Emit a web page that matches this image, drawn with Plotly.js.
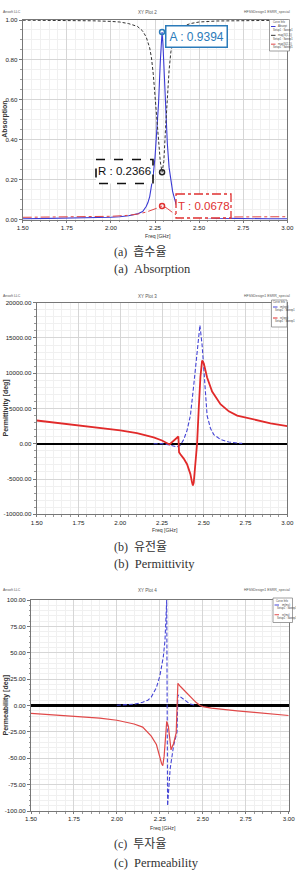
<!DOCTYPE html>
<html>
<head>
<meta charset="utf-8">
<script src="https://cdn.plot.ly/plotly-3.0.1.min.js"></script>
<style>
  html, body { margin: 0; padding: 0; background: #ffffff; }
  #chart { width: 296px; height: 881px; }
</style>
</head>
<body>
<div id="chart"></div>
<script>
// ---------- shared frequency axis ----------
const freqTicks = [1.50, 1.75, 2.00, 2.25, 2.50, 2.75, 3.00];
const freqTickText = ['1.50', '1.75', '2.00', '2.25', '2.50', '2.75', '3.00'];

// ---------- (a) absorption, |S11|, |S21| ----------
const absFreq = [1.50, 1.60, 1.70, 1.80, 1.90, 2.00, 2.05, 2.10, 2.15, 2.18, 2.20, 2.21, 2.22, 2.23, 2.24, 2.25,
                 2.26, 2.27, 2.28, 2.285, 2.29, 2.295, 2.30, 2.31, 2.32, 2.33, 2.34, 2.35, 2.37, 2.40, 2.45,
                 2.50, 2.60, 2.70, 2.80, 2.90, 3.00];
const absorption = [0.003, 0.004, 0.005, 0.006, 0.008, 0.011, 0.014, 0.019, 0.028, 0.040, 0.065, 0.085, 0.115, 0.165,
                    0.225, 0.31, 0.43, 0.58, 0.79, 0.90, 0.9394, 0.88, 0.78, 0.55, 0.38, 0.26, 0.19, 0.14, 0.075,
                    0.040, 0.020, 0.012, 0.007, 0.005, 0.004, 0.003, 0.003];

const reflFreq = [1.50, 1.80, 1.85, 1.90, 2.00, 2.05, 2.10, 2.15, 2.18, 2.20, 2.22, 2.23, 2.24, 2.25, 2.26, 2.27,
                  2.28, 2.29, 2.30, 2.31, 2.32, 2.33, 2.34, 2.35, 2.37, 2.40, 2.45, 2.50, 2.60, 2.80, 3.00];
const reflection = [0.999, 0.999, 0.997, 0.996, 0.993, 0.99, 0.982, 0.968, 0.945, 0.915, 0.86, 0.81, 0.73, 0.63,
                    0.51, 0.39, 0.29, 0.2366, 0.29, 0.46, 0.63, 0.75, 0.84, 0.89, 0.935, 0.965, 0.982, 0.99,
                    0.995, 0.998, 0.999];

const transFreq = [1.50, 1.70, 1.90, 2.00, 2.10, 2.15, 2.20, 2.25, 2.28, 2.29, 2.30, 2.32, 2.34, 2.36, 2.38,
                   2.42, 2.50, 2.70, 3.00];
const transmission = [0.011, 0.012, 0.014, 0.016, 0.021, 0.027, 0.037, 0.051, 0.063, 0.0678, 0.066, 0.055, 0.040,
                      0.028, 0.020, 0.014, 0.012, 0.013, 0.014];

// marker readouts at the absorption peak
const peakFreq = 2.29;
const peakA = 0.9394;
const peakR = 0.2366;
const peakT = 0.0678;

const absTicks = [0, 0.2, 0.4, 0.6, 0.8, 1.0];
const absTickText = ['0.00', '0.20', '0.40', '0.60', '0.80', '1.00'];

// ---------- (b) permittivity ----------
const epsReFreq = [1.50, 1.75, 2.00, 2.10, 2.20, 2.25, 2.28, 2.295, 2.348, 2.352, 2.36, 2.38, 2.40, 2.42, 2.43,
                   2.435, 2.44, 2.45, 2.46, 2.47, 2.48, 2.49, 2.50, 2.52, 2.55, 2.60, 2.65, 2.70, 2.80, 2.90, 3.00];
const epsRe = [3300, 2600, 1900, 1500, 900, 470, 150, -100, 1030, -1200, -1500, -2100, -2900, -4300, -5500,
               -5900, -5500, -3000, 0, 5000, 9500, 11800, 11400, 9400, 7400, 5600, 4600, 4000, 3400, 2900, 2500];

const epsImFreq = [2.20, 2.25, 2.30, 2.34, 2.36, 2.38, 2.40, 2.42, 2.44, 2.46, 2.47, 2.477, 2.49, 2.50, 2.51,
                   2.52, 2.54, 2.56, 2.60, 2.65, 2.70, 2.73];
const epsIm = [0, 20, -200, -450, -200, 600, 1900, 4000, 8300, 13000, 15500, 16800, 14000, 10500, 6500,
               4000, 2200, 1300, 600, 250, 100, 50];

const epsTicks = [-10000, -5000, 0, 5000, 10000, 15000, 20000];
const epsTickText = ['-10000.00', '-5000.00', '0.00', '5000.00', '10000.00', '15000.00', '20000.00'];

// ---------- (c) permeability ----------
const muReFreq = [1.50, 1.60, 1.70, 1.80, 1.90, 2.00, 2.05, 2.10, 2.15, 2.20, 2.23, 2.25, 2.26, 2.267, 2.275,
                  2.29, 2.30, 2.315, 2.33, 2.345, 2.355, 2.37, 2.40, 2.43, 2.46, 2.484, 2.50, 2.55, 2.60, 2.70,
                  2.80, 2.90, 3.00];
const muRe = [-7.5, -8.5, -9.5, -10.5, -12, -14, -15.5, -17.5, -20.5, -29, -37, -50, -55, -57, -48,
              -15, -20, -42, -36, -26, 21, 18, 13, 9, 3, 0, -1, -2.5, -3.5, -5, -6.5, -8, -9.5];

const muImFreq = [2.00, 2.05, 2.10, 2.15, 2.18, 2.20, 2.23, 2.25, 2.27, 2.28, 2.287, 2.29, 2.295, 2.31, 2.33,
                  2.35, 2.355, 2.37, 2.40, 2.425, 2.45];
const muIm = [0.3, 0.6, 1.2, 3, 5, 8, 17, 28, 46, 62, 85, 100, -95, -60, -38, -25, 10, 8, 4, 1.5, 0.5];

const muTicks = [-100, -75, -50, -25, 0, 25, 50, 75, 100];
const muTickText = ['-100.00', '-75.00', '-50.00', '-25.00', '0.00', '25.00', '50.00', '75.00', '100.00'];

// ---------- styling helpers ----------
const W = 296, H = 881;
const px = v => v / W;          // pixel -> paper x
const py = v => 1 - v / H;      // pixel -> paper y

const SANS = '"Liberation Sans", Arial, sans-serif';
const SERIF = '"Liberation Serif", "Noto Sans CJK KR", serif';

const BLUE = '#3b3bd4';
const RED = '#e12a2a';

function xAxis(domain, anchor) {
  return {
    domain: domain, anchor: anchor, range: [1.5, 3.0], fixedrange: true,
    tickmode: 'array', tickvals: freqTicks, ticktext: freqTickText,
    tickfont: { family: SANS, size: 6.2, color: '#222' }, ticklabeloverflow: 'allow',
    ticks: 'outside', ticklen: 2, tickcolor: '#777', tickwidth: 1,
    showline: true, mirror: true, linecolor: '#777', linewidth: 1,
    showgrid: true, gridcolor: '#d6d6d6', gridwidth: 1, zeroline: false,
    minor: { tickmode: 'linear', tick0: 1.5, dtick: 0.05, ticks: 'outside', ticklen: 1.5,
             tickcolor: '#999', showgrid: true, gridcolor: '#f0f0f0', gridwidth: 1 }
  };
}
function yAxis(domain, anchor, range, vals, text, minorStep, zero) {
  return {
    domain: domain, anchor: anchor, range: range, fixedrange: true,
    tickmode: 'array', tickvals: vals, ticktext: text,
    tickfont: { family: SANS, size: 6.2, color: '#222' }, ticklabeloverflow: 'allow',
    ticks: 'outside', ticklen: 3, tickcolor: '#777', tickwidth: 1,
    showline: true, mirror: true, linecolor: '#777', linewidth: 1,
    showgrid: true, gridcolor: '#d6d6d6', gridwidth: 1,
    zeroline: zero, zerolinecolor: '#000', zerolinewidth: 2.2,
    minor: { tickmode: 'linear', tick0: range[0], dtick: minorStep, ticks: 'outside', ticklen: 1.5,
             tickcolor: '#999', showgrid: true, gridcolor: '#f0f0f0', gridwidth: 1 }
  };
}

// ---------- traces ----------
const traces = [
  { x: absFreq, y: absorption, xaxis: 'x', yaxis: 'y', mode: 'lines', name: 'Absorpt',
    line: { color: BLUE, width: 1.1 } },
  { x: reflFreq, y: reflection, xaxis: 'x', yaxis: 'y', mode: 'lines', name: 'mag(S(1,1))',
    line: { color: '#333', width: 1, dash: '3px,2px' } },
  { x: transFreq, y: transmission, xaxis: 'x', yaxis: 'y', mode: 'lines', name: 'mag(S(2,1))',
    line: { color: '#e04545', width: 1, dash: 'dashdot' } },
  { x: [peakFreq], y: [peakA], xaxis: 'x', yaxis: 'y', mode: 'markers', cliponaxis: false,
    marker: { symbol: 'circle-open', size: 5, color: '#2b7bba', line: { width: 1.5 } } },
  { x: [peakFreq], y: [peakR], xaxis: 'x', yaxis: 'y', mode: 'markers',
    marker: { symbol: 'circle-open', size: 5, color: '#222', line: { width: 1.5 } } },
  { x: [peakFreq], y: [peakT], xaxis: 'x', yaxis: 'y', mode: 'markers',
    marker: { symbol: 'circle-open', size: 5, color: '#e03030', line: { width: 1.5 } } },

  { x: epsImFreq, y: epsIm, xaxis: 'x2', yaxis: 'y2', mode: 'lines', name: 'im(eps)',
    line: { color: '#4545d6', width: 1.1, dash: '4px,2px' } },
  { x: epsReFreq, y: epsRe, xaxis: 'x2', yaxis: 'y2', mode: 'lines', name: 're(eps)',
    line: { color: RED, width: 1.8 } },

  { x: muImFreq, y: muIm, xaxis: 'x3', yaxis: 'y3', mode: 'lines', name: 'im(mu)',
    line: { color: '#4545d6', width: 1.1, dash: '4px,2px' } },
  { x: muReFreq, y: muRe, xaxis: 'x3', yaxis: 'y3', mode: 'lines', name: 're(mu)',
    line: { color: '#e04848', width: 1.2 } }
];

// ---------- panel geometry (pixels) ----------
const panels = [
  { x0: 22.7, x1: 287.3, y0: 20, y1: 219.5, head: 12, plot: 'XY Plot 2', ytitle: 'Absorption',
    xt: 236, capKo: '(a)\u00a0\u00a0흡수율', capEn: '(a)\u00a0\u00a0Absorption', c1: 252, c2: 269,
    leg: [269.5, 19.5, 289.5, 51],
    entries: [['Absorpt', BLUE, 'solid'], ['mag(S(1,1))', '#333', 'dash'], ['mag(S(2,1))', '#e04545', 'dashdot']] },
  { x0: 36.7, x1: 287.3, y0: 302.7, y1: 514.3, head: 296, plot: 'XY Plot 3', ytitle: 'Permittivity [deg]',
    xt: 530, capKo: '(b)\u00a0\u00a0유전율', capEn: '(b)\u00a0\u00a0Permittivity', c1: 546.7, c2: 564,
    leg: [271.5, 300, 287, 327],
    entries: [['im(eps)', '#4545d6', 'dash'], ['re(eps)', RED, 'solid']] },
  { x0: 31, x1: 288.7, y0: 600, y1: 811, head: 590, plot: 'XY Plot 4', ytitle: 'Permeability [deg]',
    xt: 827.7, capKo: '(c)\u00a0\u00a0투자율', capEn: '(c)\u00a0\u00a0Permeability', c1: 844, c2: 862.7,
    leg: [273, 598, 292.5, 622.5],
    entries: [['im(mu)', '#4545d6', 'dash'], ['re(mu)', '#e04848', 'solid']] }
];

const annotations = [];
const shapes = [];

panels.forEach(p => {
  const cx = (p.x0 + p.x1) / 2;
  const cy = (p.y0 + p.y1) / 2;
  // header line
  annotations.push({ xref: 'paper', yref: 'paper', x: px(1), y: py(p.head), xanchor: 'left', yanchor: 'middle',
    text: 'Ansoft LLC', showarrow: false, font: { family: SANS, size: 3.5, color: '#555' } });
  annotations.push({ xref: 'paper', yref: 'paper', x: px(147), y: py(p.head), xanchor: 'center', yanchor: 'middle',
    text: p.plot, showarrow: false, font: { family: SANS, size: 4.5, color: '#555' } });
  annotations.push({ xref: 'paper', yref: 'paper', x: px(292), y: py(p.head), xanchor: 'right', yanchor: 'middle',
    text: 'HFSSDesign1 ESRR_special', showarrow: false, font: { family: SANS, size: 3.5, color: '#555' } });
  // axis titles
  annotations.push({ xref: 'paper', yref: 'paper', x: px(5), y: py(cy), xanchor: 'center', yanchor: 'middle',
    text: '<b>' + p.ytitle + '</b>', textangle: -90, showarrow: false,
    font: { family: SANS, size: 7, color: '#333' } });
  annotations.push({ xref: 'paper', yref: 'paper', x: px(cx + 3), y: py(p.xt), xanchor: 'center', yanchor: 'middle',
    text: 'Freq [GHz]', showarrow: false, font: { family: SANS, size: 5.2, color: '#333' } });
  // captions
  annotations.push({ xref: 'paper', yref: 'paper', x: px(112), y: py(p.c1), xanchor: 'left', yanchor: 'middle',
    text: p.capKo, showarrow: false, font: { family: SERIF, size: 12, color: '#333' } });
  annotations.push({ xref: 'paper', yref: 'paper', x: px(112), y: py(p.c2), xanchor: 'left', yanchor: 'middle',
    text: p.capEn, showarrow: false, font: { family: SERIF, size: 12.5, color: '#333' } });
  // curve-info box
  const [lx0, ly0, lx1, ly1] = p.leg;
  shapes.push({ type: 'rect', xref: 'paper', yref: 'paper', x0: px(lx0), x1: px(lx1), y0: py(ly0), y1: py(ly1),
    fillcolor: '#ffffff', line: { color: '#888', width: 0.8 }, layer: 'above' });
  annotations.push({ xref: 'paper', yref: 'paper', x: px((lx0 + lx1) / 2), y: py(ly0 + 2.5), xanchor: 'center',
    yanchor: 'middle', text: 'Curve Info', showarrow: false, font: { family: SANS, size: 2.6, color: '#444' } });
  const rowH = (ly1 - ly0 - 5) / p.entries.length;
  p.entries.forEach((e, i) => {
    const ry = ly0 + 5 + rowH * i + 2;
    shapes.push({ type: 'line', xref: 'paper', yref: 'paper', x0: px(lx0 + 1.5), x1: px(lx0 + 6), y0: py(ry), y1: py(ry),
      line: { color: e[1], width: 1, dash: e[2] }, layer: 'above' });
    annotations.push({ xref: 'paper', yref: 'paper', x: px(lx0 + 6.5), y: py(ry), xanchor: 'left', yanchor: 'middle',
      text: e[0], showarrow: false, font: { family: SANS, size: 2.6, color: '#444' } });
    annotations.push({ xref: 'paper', yref: 'paper', x: px(lx0 + 1.5), y: py(ry + 3.3), xanchor: 'left', yanchor: 'middle',
      text: 'Setup1 : Sweep1', showarrow: false, font: { family: SANS, size: 2.6, color: '#444' } });
  });
});

// marker readout boxes on the absorption plot
annotations.push({ xref: 'paper', yref: 'paper', x: px(196.5), y: py(36), xanchor: 'center', yanchor: 'middle',
  text: 'A : ' + peakA.toFixed(4), showarrow: false, bgcolor: '#ffffff', bordercolor: '#2b7bba',
  borderwidth: 1.5, borderpad: 3, font: { family: SANS, size: 12, color: '#2b7bba' } });

shapes.push({ type: 'rect', xref: 'paper', yref: 'paper', x0: px(96), x1: px(153), y0: py(159.5), y1: py(183.5),
  fillcolor: '#ffffff', line: { color: '#111', width: 1.6, dash: 'dash' }, layer: 'above' });
annotations.push({ xref: 'paper', yref: 'paper', x: px(124.5), y: py(171.5), xanchor: 'center', yanchor: 'middle',
  text: 'R : ' + peakR.toFixed(4), showarrow: false, font: { family: SANS, size: 11.5, color: '#111' } });

shapes.push({ type: 'rect', xref: 'paper', yref: 'paper', x0: px(176), x1: px(231), y0: py(194), y1: py(218),
  fillcolor: '#ffffff', line: { color: '#e03030', width: 1.3, dash: 'dashdot' }, layer: 'above' });
annotations.push({ xref: 'paper', yref: 'paper', x: px(203.5), y: py(206), xanchor: 'center', yanchor: 'middle',
  text: 'T : ' + peakT.toFixed(4), showarrow: false, font: { family: SANS, size: 11.5, color: '#e03030' } });

const P = panels;
const layout = {
  width: W, height: H,
  margin: { l: 0, r: 0, t: 0, b: 0 },
  paper_bgcolor: '#ffffff', plot_bgcolor: '#ffffff',
  showlegend: false,
  xaxis: xAxis([px(P[0].x0), px(P[0].x1)], 'y'),
  yaxis: yAxis([py(P[0].y1), py(P[0].y0)], 'x', [0, 1], absTicks, absTickText, 0.05, false),
  xaxis2: xAxis([px(P[1].x0), px(P[1].x1)], 'y2'),
  yaxis2: yAxis([py(P[1].y1), py(P[1].y0)], 'x2', [-10000, 20000], epsTicks, epsTickText, 1000, true),
  xaxis3: xAxis([px(P[2].x0), px(P[2].x1)], 'y3'),
  yaxis3: yAxis([py(P[2].y1), py(P[2].y0)], 'x3', [-100, 100], muTicks, muTickText, 5, true),
  annotations: annotations,
  shapes: shapes
};

Plotly.newPlot('chart', traces, layout, { staticPlot: true, displayModeBar: false });
</script>
</body>
</html>
